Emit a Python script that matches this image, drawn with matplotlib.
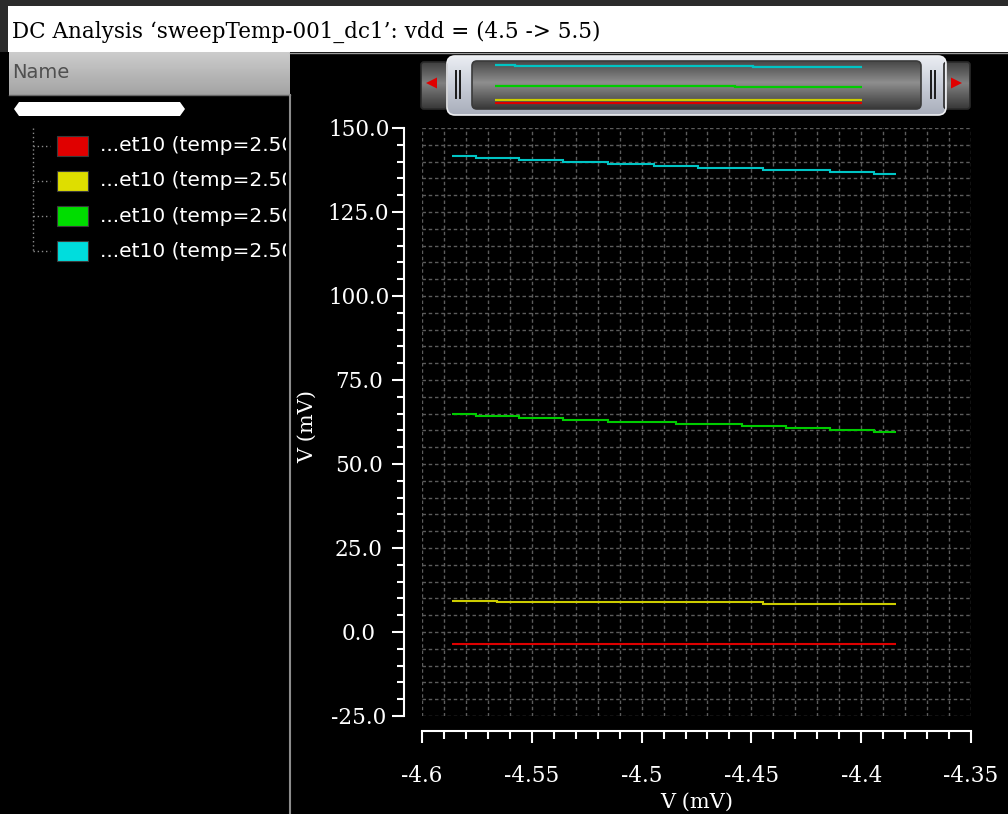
import numpy as np
import matplotlib.pyplot as plt
from matplotlib.patches import Rectangle, FancyBboxPatch, Polygon
from matplotlib.ticker import MultipleLocator, FormatStrFormatter
from matplotlib.transforms import Bbox, TransformedBbox

# step traces: edges along x (mV), one level per step (mV)
red_edges = [-4.5865, -4.3843]
red_levels = [-3.6]
yellow_edges = [-4.5865, -4.5658, -4.4447, -4.3843]
yellow_levels = [9.3, 8.8, 8.2]
green_edges = [-4.5865, -4.5754, -4.5557, -4.5357, -4.5154, -4.4845,
               -4.4544, -4.4342, -4.4142, -4.3942, -4.3843]
green_levels = [64.8, 64.2, 63.6, 63.0, 62.4, 61.8, 61.2, 60.6, 60.0, 59.4]
cyan_edges = [-4.5865, -4.5754, -4.5557, -4.5357, -4.5154, -4.4945,
              -4.4744, -4.4446, -4.4142, -4.3942, -4.3843]
cyan_levels = [141.7, 141.1, 140.5, 139.9, 139.3, 138.7, 138.1, 137.5, 136.9, 136.3]

trace_colors = ['#dd0000', '#cccc00', '#00cc00', '#00c4c4']
swatch_colors = ['#e00000', '#dede00', '#00dd00', '#00dddd']
legend_names = ['...et10 (temp=2.50)'] * 4
title = 'DC Analysis \u2018sweepTemp-001_dc1\u2019: vdd = (4.5 -> 5.5)'
x_ticks = [-4.6, -4.55, -4.5, -4.45, -4.4, -4.35]
y_ticks = [-25.0, 0.0, 25.0, 50.0, 75.0, 100.0, 125.0, 150.0]

traces = [(red_edges, red_levels), (yellow_edges, yellow_levels),
          (green_edges, green_levels), (cyan_edges, cyan_levels)]

W, H = 1008, 814
fig = plt.figure(figsize=(W / 100, H / 100), dpi=100, facecolor='black')

# background "window" drawn in pixel coordinates
bg = fig.add_axes([0, 0, 1, 1])
bg.axis('off')


def gradient_box(x0, y0, w, h, top, mid, bottom, rounding, edge):
    patch = FancyBboxPatch((x0, y0), w, h, boxstyle=f'round,pad=0,rounding_size={rounding}',
                           fc='none', ec=edge, lw=1.2, zorder=3)
    bg.add_patch(patch)
    t = np.linspace(0, 1, 60)
    cols = np.stack([np.interp(t, [0, 0.45, 1], [top[k], mid[k], bottom[k]]) for k in range(3)], axis=-1)
    img = bg.imshow(cols[:, None, :], extent=(x0, x0 + w, y0 + h, y0), aspect='auto', zorder=2)
    img.set_clip_path(patch)


# title bar
bg.add_patch(Rectangle((0, 0), W, 6, fc='#2b2b2b', ec='none'))
bg.add_patch(Rectangle((0, 0), 8, 52, fc='#2b2b2b', ec='none'))
bg.add_patch(Rectangle((8, 6), W - 8, 46, fc='white', ec='none'))
bg.text(12, 32, title, family='DejaVu Serif', fontsize=15.5, color='black', va='center')
bg.plot([290, W], [53, 53], color='#9a9a9a', lw=1)

# "Name" header of the signal list
hdr = np.linspace(0.80, 0.64, 40)[:, None]
bg.imshow(hdr, cmap='gray', vmin=0, vmax=1, extent=(9, 290, 95, 52), aspect='auto')
bg.plot([9, 290], [95, 95], color='#666666', lw=1)
bg.text(12, 72, 'Name', family='DejaVu Sans', fontsize=14, color='#505050', va='center')
bg.add_patch(Polygon([(14, 109), (19, 102), (180, 102), (185, 109), (180, 116), (19, 116)],
                     closed=True, fc='white', ec='none'))
bg.plot([290, 290], [95, H], color='#8c8c8c', lw=1.5)

# legend tree
clip = TransformedBbox(Bbox([[0, 0], [286 / W, 1]]), fig.transFigure)
row_y = [145.5 + 35.3 * i for i in range(4)]
bg.plot([33, 33], [128, row_y[-1]], color='#8a8a8a', ls=(0, (1, 2)), lw=1)
for y, sc, name in zip(row_y, swatch_colors, legend_names):
    bg.plot([33, 50], [y, y], color='#8a8a8a', ls=(0, (1, 2)), lw=1)
    bg.add_patch(Rectangle((57, y - 10), 31, 20, fc=sc, ec='#3a3a3a', lw=0.8))
    t = bg.text(100, y, name, family='DejaVu Sans', fontsize=14.5, color='white',
                va='center', clip_on=True)
    t.set_clip_box(clip)

# overview / zoom bar above the plot
gradient_box(421, 62, 26, 47, (0.25, 0.25, 0.25), (0.50, 0.50, 0.50), (0.22, 0.22, 0.22), 3, '#2a2a2a')
gradient_box(944, 62, 26, 47, (0.25, 0.25, 0.25), (0.50, 0.50, 0.50), (0.22, 0.22, 0.22), 3, '#2a2a2a')
gradient_box(447, 56, 499, 59, (0.92, 0.93, 0.95), (0.80, 0.82, 0.86), (0.66, 0.68, 0.73), 8, '#f0f1f4')
gradient_box(472, 61, 449, 48, (0.28, 0.28, 0.28), (0.56, 0.56, 0.56), (0.22, 0.22, 0.22), 5, '#3a3a3a')
for hx in [456, 460, 931, 935]:
    bg.plot([hx, hx], [71, 98], color='#1a1a1a', lw=1.4, zorder=4)
bg.add_patch(Polygon([(426, 83), (437, 77.5), (437, 88.5)], closed=True, fc='#e00000', ec='none', zorder=4))
bg.add_patch(Polygon([(962, 83), (951, 77.5), (951, 88.5)], closed=True, fc='#e00000', ec='none', zorder=4))
bg.set_xlim(0, W)
bg.set_ylim(H, 0)

# thumbnail of the traces inside the overview bar
thumb = fig.add_axes([495 / W, (H - 103.5) / H, 367 / W, 38 / H])
thumb.axis('off')
for (edges, levels), c in zip(traces, trace_colors):
    thumb.stairs(levels, edges, baseline=None, color=c, lw=1.6, clip_on=False)
thumb.set_xlim(min(red_edges), max(red_edges))
thumb.set_ylim(min(red_levels), max(cyan_levels))

# main plot
ax = fig.add_axes([422 / W, (H - 716) / H, 549 / W, 588 / H], facecolor='black')
for (edges, levels), c in zip(traces, trace_colors):
    ax.stairs(levels, edges, baseline=None, color=c, lw=1.5, zorder=3)

ax.set_xlim(-4.6, -4.35)
ax.set_ylim(-25, 150)
ax.set_xticks(x_ticks)
ax.set_yticks(y_ticks)
ax.xaxis.set_minor_locator(MultipleLocator(0.01))
ax.yaxis.set_minor_locator(MultipleLocator(5))
ax.xaxis.set_major_formatter(FormatStrFormatter('%g'))
ax.yaxis.set_major_formatter(FormatStrFormatter('%.1f'))
ax.grid(which='both', color='#5c5c5c', ls=(0, (2.5, 2)), lw=1.0)

for s in ['top', 'right']:
    ax.spines[s].set_visible(False)
ax.spines['left'].set_position(('outward', 13))
ax.spines['bottom'].set_position(('outward', 11))
for s in ['left', 'bottom']:
    ax.spines[s].set_color('white')
    ax.spines[s].set_linewidth(1.5)

ax.tick_params(which='both', colors='white', direction='out', width=1.5,
               labelsize=15.5, labelfontfamily='DejaVu Serif')
ax.tick_params(which='major', length=8.6)
ax.tick_params(axis='y', which='minor', length=5)
ax.tick_params(axis='x', which='minor', length=5.8)
ax.tick_params(axis='x', pad=16)
ax.tick_params(axis='y', pad=24)
plt.setp(ax.get_yticklabels(), ha='center')

ax.set_xlabel('V (mV)', color='white', fontsize=15, family='DejaVu Serif')
ax.set_ylabel('V (mV)', color='white', fontsize=15, family='DejaVu Serif')
ax.xaxis.set_label_coords(0.5, -0.131)
ax.yaxis.set_label_coords(-0.191, 0.493)

fig.savefig('out.png', dpi=100, facecolor='black')
